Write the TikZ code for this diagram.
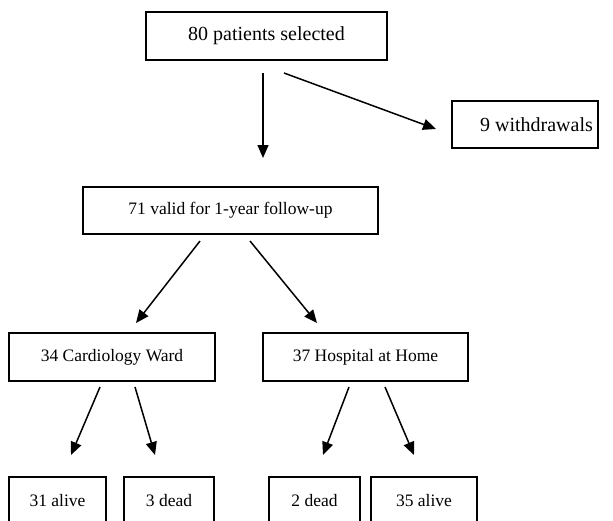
\documentclass[tikz,border=0pt]{standalone}
\usepackage{fontspec}
\setmainfont{Liberation Serif}
\usetikzlibrary{arrows.meta}
\begin{document}
\begin{tikzpicture}[x=1pt,y=-1pt,
  box/.style={draw=black,line width=1.1pt,inner sep=0pt,align=center,
    font=\fontsize{17.5}{20}\selectfont},
  bigbox/.style={box,font=\fontsize{20}{23}\selectfont},
  arr/.style={line width=1.5pt,-{Triangle[length=13pt,width=11pt]}}]
\useasboundingbox (0,0) rectangle (613,520);
\clip (0,0) rectangle (613,520);
\node[bigbox,minimum width=241pt,minimum height=48pt] (sel) at (266.5,36) {80 patients selected};
\node[box,minimum width=146pt,minimum height=47pt] (wd) at (525,124.5) {};
\node[font=\fontsize{20}{23}\selectfont,inner sep=0pt] (wdt) at (536.5,124.5) {9 withdrawals};
\node[box,minimum width=295pt,minimum height=47pt] (valid) at (230.5,210.5) {71 valid for 1-year follow-up};
\node[box,minimum width=206pt,minimum height=48pt] (card) at (112,357) {34 Cardiology Ward};
\node[box,minimum width=205pt,minimum height=48pt] (home) at (365.5,357) {37 Hospital at Home};
\node[box,minimum width=97pt,minimum height=48pt] (a31) at (57.5,501) {31 alive};
\node[box,minimum width=90pt,minimum height=48pt] (d3) at (169,501) {3 dead};
\node[box,minimum width=91pt,minimum height=48pt] (d2) at (314.5,501) {2 dead};
\node[box,minimum width=106pt,minimum height=48pt] (a35) at (424,501) {35 alive};
% arrow ends
\coordinate (s1) at (263,73);  \coordinate (e1) at (263,158);
\coordinate (s2) at (284,73);  \coordinate (e2) at (436,129);
\coordinate (s3) at (200,241); \coordinate (e3) at (136,323);
\coordinate (s4) at (250,241); \coordinate (e4) at (317,323);
\coordinate (s5) at (100,387); \coordinate (e5) at (71,455);
\coordinate (s6) at (135,387); \coordinate (e6) at (155,455);
\coordinate (s7) at (349,387); \coordinate (e7) at (323,455);
\coordinate (s8) at (385,387); \coordinate (e8) at (414,455);
\draw[arr] (s1) -- (e1);
\draw[arr] (s2) -- (e2);
\draw[arr] (s3) -- (e3);
\draw[arr] (s4) -- (e4);
\draw[arr] (s5) -- (e5);
\draw[arr] (s6) -- (e6);
\draw[arr] (s7) -- (e7);
\draw[arr] (s8) -- (e8);
\end{tikzpicture}
\end{document}
